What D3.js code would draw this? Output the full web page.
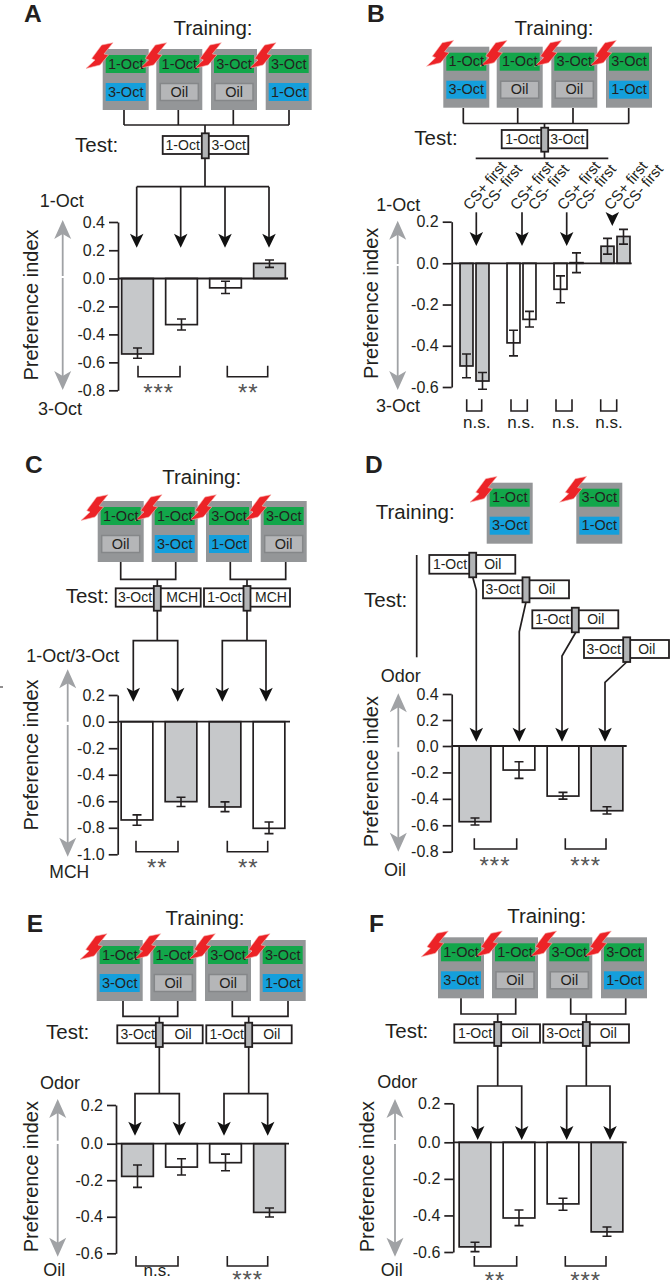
<!DOCTYPE html>
<html>
<head>
<meta charset="utf-8">
<script src="https://cdnjs.cloudflare.com/ajax/libs/d3/7.8.5/d3.min.js"></script>
<style>
html, body { margin: 0; padding: 0; background: #fff; }
svg { display: block; }
text { font-family: "Liberation Sans", Arial, sans-serif; fill: #231f20; }
.axis path, .axis line { stroke: #231f20; stroke-width: 1.7; }
.axis text { font-size: 16px; font-family: "Liberation Sans", Arial, sans-serif; fill: #231f20; }
</style>
</head>
<body>
<div id="chart"></div>
<script>
// values
var panelAValues = [-0.54, -0.33, -0.067, 0.107];
var panelAErrLow = [-0.571, -0.369, -0.107, 0.079];
var panelAErrHigh = [-0.497, -0.29, -0.02, 0.131];
var panelATicks = [0.4, 0.2, 0, -0.2, -0.4, -0.6, -0.8];

var panelBGroups = ["Group 1", "Group 2", "Group 3", "Group 4"];
var panelBSeries = ["CS+ first", "CS- first"];
var panelBValues = [[-0.498, -0.571], [-0.386, -0.272], [-0.126, 0.003], [0.082, 0.129]];
var panelBErrLow = [[-0.555, -0.611], [-0.449, -0.309], [-0.191, -0.045], [0.044, 0.092]];
var panelBErrHigh = [[-0.44, -0.53], [-0.325, -0.233], [-0.061, 0.05], [0.12, 0.163]];
var panelBTicks = [0.2, 0, -0.2, -0.4, -0.6];

var panelCValues = [-0.741, -0.603, -0.643, -0.804];
var panelCErrLow = [-0.781, -0.64, -0.678, -0.844];
var panelCErrHigh = [-0.703, -0.57, -0.605, -0.756];
var panelCTicks = [0.2, 0, -0.2, -0.4, -0.6, -0.8, -1.0];

var panelDValues = [-0.573, -0.182, -0.379, -0.49];
var panelDErrLow = [-0.598, -0.245, -0.402, -0.515];
var panelDErrHigh = [-0.545, -0.119, -0.351, -0.46];
var panelDTicks = [0.4, 0.2, 0, -0.2, -0.4, -0.6, -0.8];

var panelEValues = [-0.179, -0.128, -0.104, -0.376];
var panelEErrLow = [-0.239, -0.171, -0.148, -0.401];
var panelEErrHigh = [-0.117, -0.082, -0.057, -0.352];
var panelETicks = [0.2, 0, -0.2, -0.4, -0.6];

var panelFValues = [-0.572, -0.414, -0.337, -0.49];
var panelFErrLow = [-0.598, -0.456, -0.372, -0.514];
var panelFErrHigh = [-0.547, -0.37, -0.306, -0.463];
var panelFTicks = [0.2, 0, -0.2, -0.4, -0.6];

var barFillsA = ["grey", "white", "white", "grey"];
var barFillsC = ["white", "grey", "grey", "white"];

var cagesAll = [["1-Oct", "3-Oct"], ["1-Oct", "Oil"], ["3-Oct", "Oil"], ["3-Oct", "1-Oct"]];
var cagesC = [["1-Oct", "Oil"], ["1-Oct", "3-Oct"], ["3-Oct", "1-Oct"], ["3-Oct", "Oil"]];
var cagesD = [["1-Oct", "3-Oct"], ["3-Oct", "1-Oct"]];

var sigA = ["***", "**"], sigB = ["n.s.", "n.s.", "n.s.", "n.s."], sigC = ["**", "**"];
var sigD = ["***", "***"], sigE = ["n.s.", "***"], sigF = ["**", "***"];

var width = 670, height = 1280;
var svg = d3.select("#chart").append("svg").attr("width", width).attr("height", height);

var boltShape = [[-1, -4], [10.3, -6.3], [1.3, 5], [5.8, 6], [-2.7, 16], [-16.7, 19.5], [-7.7, 11], [-11, 9.5]];

function label(g, txt, x, y, size, anchor) {
    return g.append("text").attr("x", x).attr("y", y).attr("font-size", size)
        .attr("text-anchor", anchor || "middle").text(txt);
}

function cage(g, x, y, pair) {
    g.append("rect").attr("x", x).attr("y", y).attr("width", 46).attr("height", 61).attr("fill", "#949698");
    g.append("rect").attr("x", x + 3).attr("y", y + 6).attr("width", 40).attr("height", 18).attr("fill", "#12a64a");
    if (pair[1] == "Oil")
        g.append("rect").attr("x", x + 4).attr("y", y + 34.5).attr("width", 38).attr("height", 17)
            .attr("fill", "#b5b6b8").attr("stroke", "#858789").attr("stroke-width", 1.5);
    else
        g.append("rect").attr("x", x + 3).attr("y", y + 34).attr("width", 40).attr("height", 18).attr("fill", "#149fdc");
    g.append("polygon")
        .attr("points", boltShape.map(function(p) { return (x + p[0]) + "," + (y + p[1]); }).join(" "))
        .attr("fill", "#ec2327").attr("stroke", "#f6b5b0").attr("stroke-width", 0.6);
}

// labels go on in a second pass so the next cage's bolt does not cover them
function cageLabels(g, x, y, pair) {
    label(g, pair[0], x + 23, y + 19.5, 14.5);
    label(g, pair[1], x + 23, y + 47.7, 14.5);
}

function testBox(g, x0, x1, y0, y1, sx, sy0, sy1, labels) {
    g.append("rect").attr("x", x0).attr("y", y0).attr("width", x1 - x0).attr("height", y1 - y0)
        .attr("fill", "#fff").attr("stroke", "#231f20").attr("stroke-width", 1.8);
    g.append("rect").attr("x", sx - 3.5).attr("y", sy0).attr("width", 7).attr("height", sy1 - sy0)
        .attr("fill", "#b1b3b5").attr("stroke", "#231f20").attr("stroke-width", 1.8);
    label(g, labels[0][0], labels[0][1], y1 - 4.5, 14);
    label(g, labels[1][0], labels[1][1], y1 - 4.5, 14);
}

function head(g, x, tip, w, h, notch, color) {
    g.append("polygon")
        .attr("points", [[x, tip], [x - w / 2, tip - h], [x, tip - h + notch], [x + w / 2, tip - h]].join(" "))
        .attr("fill", color);
}

var linePath = d3.line();

function drawLines(g, lines) {
    lines.forEach(function(pts) {
        g.append("path").attr("d", linePath(pts)).attr("fill", "none")
            .attr("stroke", "#231f20").attr("stroke-width", 1.7);
    });
}

function doubleArrow(g, x, topTip, upEnd, downStart, botTip) {
    var grey = "#a0a2a5";
    g.append("line").attr("x1", x).attr("x2", x).attr("y1", topTip + 12).attr("y2", upEnd)
        .attr("stroke", grey).attr("stroke-width", 1.8);
    g.append("line").attr("x1", x).attr("x2", x).attr("y1", downStart).attr("y2", botTip - 12)
        .attr("stroke", grey).attr("stroke-width", 1.8);
    head(g, x, topTip, 17, -19, -5, grey);
    head(g, x, botTip, 17, 19, 5, grey);
}

function errorBar(g, x, low, high, y) {
    var path = d3.path();
    path.moveTo(x, y(low)); path.lineTo(x, y(high));
    path.moveTo(x - 4.5, y(low)); path.lineTo(x + 4.5, y(low));
    path.moveTo(x - 4.5, y(high)); path.lineTo(x + 4.5, y(high));
    g.append("path").attr("d", path.toString()).attr("fill", "none")
        .attr("stroke", "#231f20").attr("stroke-width", 1.6);
}

function drawBar(g, x, w, value, low, high, fill, y) {
    g.append("rect").attr("x", x).attr("width", w)
        .attr("y", Math.min(y(0), y(value))).attr("height", Math.abs(y(value) - y(0)))
        .attr("fill", fill == "grey" ? "#c6c8ca" : "#fff")
        .attr("stroke", "#231f20").attr("stroke-width", 1.7);
    errorBar(g, x + w / 2, low, high, y);
}

function yAxis(g, o) {
    // the spacing above zero is a little wider than below it in the scans, hence three stops
    var y = d3.scaleLinear()
        .domain([o.ticks[0], 0, o.ticks[o.ticks.length - 1]])
        .range(o.yRange);
    g.append("g").attr("class", "axis").attr("transform", "translate(" + o.axisX + ",0)")
        .call(d3.axisLeft(y).tickValues(o.ticks).tickSize(9).tickSizeOuter(0).tickPadding(4)
            .tickFormat(function(d) { return d.toFixed(1); }));
    return y;
}

function bracket(g, x0, x1, top, bot) {
    g.append("path").attr("d", linePath([[x0, top], [x0, bot], [x1, bot], [x1, top]]))
        .attr("fill", "none").attr("stroke", "#231f20").attr("stroke-width", 1.6);
}

function sigText(g, txt, x, y) {
    if (txt == "n.s.") label(g, txt, x, y, 17);
    else label(g, txt, x, y + 14, 24).style("fill", "#555").attr("letter-spacing", 1);
}

function common(o) {
    var g = svg.append("g");
    label(g, o.letter[0], o.letter[1], o.letter[2], 24.5, "start").attr("font-weight", "bold");
    label(g, "Training:", o.training[0], o.training[1], 20.5, o.training[2]);
    o.cageX.forEach(function(x, i) { cage(g, x, o.cageY, o.cages[i]); });
    o.cageX.forEach(function(x, i) { cageLabels(g, x, o.cageY, o.cages[i]); });
    label(g, "Test:", o.test[0], o.test[1], 20.5, "start");
    drawLines(g, o.lines);
    o.boxes.forEach(function(b) { testBox(g, b[0], b[1], b[2], b[3], b[4], b[5], b[6], b[7]); });
    o.heads.forEach(function(h) { head(g, h[0], h[1], 13.5, 14, 3.5, "#111"); });
    label(g, o.topLabel[0], o.topLabel[1], o.topLabel[2], 18);
    label(g, o.botLabel[0], o.botLabel[1], o.botLabel[2], o.botLabel[3] || 18);
    doubleArrow(g, o.grey[0], o.grey[1], o.grey[2], o.grey[3], o.grey[4]);
    g.append("text").attr("transform", "translate(" + o.pref[0] + "," + o.pref[1] + ") rotate(-90)")
        .attr("font-size", 20).attr("text-anchor", "middle").text("Preference index");
    o.brackets.forEach(function(b) { bracket(g, b[0], b[1], o.brTop, o.brBot); });
    o.sig.forEach(function(s, i) { sigText(g, s, o.sigX[i], o.sigY[i]); });
    return g;
}

function barPanel(o) {
    var g = common(o);
    var x = d3.scaleBand().domain(d3.range(o.values.length)).range(o.xRange)
        .paddingInner(0.28).paddingOuter(0.14);
    var y = yAxis(g, o);
    o.values.forEach(function(v, i) {
        drawBar(g, x(i), x.bandwidth(), v, o.low[i], o.high[i], o.fills[i], y);
    });
    g.append("line").attr("x1", o.axisX).attr("x2", o.zeroEnd).attr("y1", y(0)).attr("y2", y(0))
        .attr("stroke", "#231f20").attr("stroke-width", 1.8);
}

barPanel({
    letter: ["A", 24, 22.2], training: [213, 34.7], test: [75, 151.7],
    cages: cagesAll, cageX: [102.7, 156.3, 211, 265.7], cageY: 49,
    lines: [[[124, 110], [124, 125]], [[178.3, 110], [178.3, 125]], [[233.3, 110], [233.3, 125]], [[289, 110], [289, 125]],
        [[124, 125], [289, 125]], [[205, 125], [205, 186.7]], [[136.7, 186.7], [269, 186.7]],
        [[136.7, 186.7], [136.7, 240]], [[180.7, 186.7], [180.7, 240]], [[225, 186.7], [225, 240]], [[269, 186.7], [269, 240]]],
    boxes: [[162.7, 248.3, 136, 154, 205.3, 133.3, 158.3, [["1-Oct", 182.7], ["3-Oct", 228.7]]]],
    heads: [[136.7, 247.7], [180.7, 247.7], [225, 247.7], [269, 247.7]],
    topLabel: ["1-Oct", 61.7, 207], botLabel: ["3-Oct", 60, 415],
    grey: [62.7, 220, 276, 278, 390], pref: [37.7, 305],
    ticks: panelATicks, axisX: 118, yRange: [222, 278.5, 390.3], zeroEnd: 288,
    xRange: [115.5, 291.5], values: panelAValues, low: panelAErrLow, high: panelAErrHigh, fills: barFillsA,
    brackets: [[138, 180], [227.3, 267.7]], brTop: 365.7, brBot: 376.7,
    sig: sigA, sigX: [158.7, 248.3], sigY: [386.5, 386.5]
});

// panel B has two bars in each group
(function() {
    var o = {
        letter: ["B", 367, 22.2], training: [554, 34.7], test: [414.3, 145],
        cages: cagesAll, cageX: [443.3, 496.7, 551.3, 606], cageY: 46.7,
        lines: [[[463.3, 108], [463.3, 123.5]], [[517.7, 108], [517.7, 123.5]], [[573, 108], [573, 123.5]], [[628.7, 108], [628.7, 123.5]],
            [[463.3, 123.5], [628.7, 123.5]], [[544.5, 123.5], [544.5, 158.3]], [[475.7, 158.3], [608.3, 158.3]],
            [[476.3, 212.3], [476.3, 240]], [[522, 212.3], [522, 240]], [[566.7, 212.3], [566.7, 240]]],
        boxes: [[501.7, 587.3, 130, 148.3, 544.7, 127.7, 151.7, [["1-Oct", 522.3], ["3-Oct", 567.3]]]],
        heads: [[476.3, 246], [522, 246], [566.7, 246], [612.3, 226]],
        topLabel: ["1-Oct", 398.3, 211], botLabel: ["3-Oct", 398, 411.7],
        grey: [397.7, 220.7, 264, 266, 390], pref: [378.3, 303.3],
        ticks: panelBTicks, axisX: 451.7, yRange: [221.7, 263.3, 387],
        brackets: [[466.7, 481.7], [511, 527.3], [556, 572], [600.7, 616.7]], brTop: 399.3, brBot: 411,
        sig: sigB, sigX: [476.7, 521, 565.7, 609], sigY: [428, 428, 428, 428]
    };
    var g = common(o);
    var y = yAxis(g, o);
    var x0 = d3.scaleBand().domain(panelBGroups).range([451, 639]);
    var x1 = d3.scaleBand().domain(panelBSeries).range([0, x0.bandwidth()]).paddingInner(0.19).paddingOuter(0.565);
    panelBGroups.forEach(function(grp, i) {
        panelBSeries.forEach(function(s, j) {
            drawBar(g, x0(grp) + x1(s), x1.bandwidth(), panelBValues[i][j], panelBErrLow[i][j], panelBErrHigh[i][j], barFillsA[i], y);
            g.append("text").attr("font-size", 15)
                .attr("transform", "translate(" + (x0(grp) + x1(s) + (j ? 12 : 10)) + ",211) rotate(-50)")
                .text(s);
        });
    });
    g.append("line").attr("x1", 451.7).attr("x2", 631.7).attr("y1", y(0)).attr("y2", y(0))
        .attr("stroke", "#231f20").attr("stroke-width", 1.8);
})();

barPanel({
    letter: ["C", 25, 472.7], training: [201.7, 484.3], test: [65.7, 602.7],
    cages: cagesC, cageX: [97.7, 151.7, 206, 260.7], cageY: 501,
    lines: [[[120.7, 562], [120.7, 579.3], [175.7, 579.3], [175.7, 562]], [[230.3, 562], [230.3, 579.3], [285.7, 579.3], [285.7, 562]],
        [[157.3, 579.3], [157.3, 640.7]], [[247, 579.3], [247, 640.7]],
        [[133.3, 695], [133.3, 640.7], [177.7, 640.7], [177.7, 695]], [[222.3, 695], [222.3, 640.7], [266, 640.7], [266, 695]]],
    boxes: [[115.7, 200.7, 588.3, 606.7, 157.3, 586, 610.7, [["3-Oct", 135], ["MCH", 182.3]]],
        [204, 290, 588.3, 606.7, 247, 586, 610.7, [["1-Oct", 224.3], ["MCH", 271]]]],
    heads: [[133.3, 701.7], [177.7, 701.7], [222.3, 701.7], [266, 701.7]],
    topLabel: ["1-Oct/3-Oct", 72.7, 662.3], botLabel: ["MCH", 69.3, 878, 17.5],
    grey: [67.7, 669.3, 721.7, 725, 856.7], pref: [37.7, 755],
    ticks: panelCTicks, axisX: 117.7, yRange: [695, 721.7, 854.3], zeroEnd: 290,
    xRange: [115, 291], values: panelCValues, low: panelCErrLow, high: panelCErrHigh, fills: barFillsC,
    brackets: [[136, 178], [227.3, 267.7]], brTop: 840.7, brBot: 851.7,
    sig: sigC, sigX: [157.3, 248.3], sigY: [861.7, 861.7]
});

barPanel({
    letter: ["D", 365, 472.7], training: [375.7, 519.3, "start"], test: [364, 606.7],
    cages: cagesD, cageX: [486.7, 576.3], cageY: 482.7,
    lines: [[[416.7, 555], [416.7, 657.3]],
        [[472.7, 577], [476.3, 590], [476.3, 736]], [[526, 602], [519.3, 631.7], [519.3, 736]],
        [[576, 632], [562, 656], [562, 736]], [[626.7, 662], [605, 682.3], [605, 736]]],
    boxes: [[429.3, 515.3, 555, 573.7, 472.7, 552.7, 577.3, [["1-Oct", 450], ["Oil", 492.7]]],
        [483, 569, 580.3, 598.3, 526, 577.3, 602.3, [["3-Oct", 502.7], ["Oil", 546.7]]],
        [532.3, 618.3, 610.3, 628.3, 575.3, 607.7, 632.3, [["1-Oct", 552.3], ["Oil", 595.7]]],
        [584, 669, 640, 658, 626.7, 637.3, 662, [["3-Oct", 603.7], ["Oil", 646.7]]]],
    heads: [[476.3, 741.7], [519.3, 741.7], [562, 741.7], [605, 741.7]],
    topLabel: ["Odor", 400.7, 681.7], botLabel: ["Oil", 395, 875.7],
    grey: [398.3, 693.3, 747.3, 751.7, 851.7], pref: [378.3, 771.7],
    ticks: panelDTicks, axisX: 451.7, yRange: [694, 746, 851.7], zeroEnd: 626.7,
    xRange: [453, 629], values: panelDValues, low: panelDErrLow, high: panelDErrHigh, fills: barFillsA,
    brackets: [[474.3, 516.7], [565.3, 606]], brTop: 838.3, brBot: 849,
    sig: sigD, sigX: [495, 585.7], sigY: [860, 860]
});

barPanel({
    letter: ["E", 26.7, 931.7], training: [205, 925], test: [46, 1039.3],
    cages: cagesAll, cageX: [96.7, 150.3, 205, 259.7], cageY: 940,
    lines: [[[123, 1001], [123, 1016.3], [177.7, 1016.3], [177.7, 1001]], [[232.3, 1001], [232.3, 1016.3], [288, 1016.3], [288, 1001]],
        [[159.3, 1016.3], [159.3, 1093.7]], [[248.7, 1016.3], [248.7, 1093.7]],
        [[135, 1130], [135, 1093.7], [179.3, 1093.7], [179.3, 1130]], [[224, 1130], [224, 1093.7], [267.7, 1093.7], [267.7, 1130]]],
    boxes: [[117.3, 202.7, 1025.3, 1043.3, 159.3, 1022.7, 1047, [["3-Oct", 137.7], ["Oil", 183]]],
        [206.3, 291.7, 1025.3, 1043.3, 248.7, 1022.7, 1047, [["1-Oct", 226.7], ["Oil", 271.7]]]],
    heads: [[135, 1135.7], [179.3, 1135.7], [224, 1135.7], [267.7, 1135.7]],
    topLabel: ["Odor", 60, 1089], botLabel: ["Oil", 54.3, 1276],
    grey: [57.7, 1099, 1140.7, 1144, 1256.7], pref: [37.7, 1176.7],
    ticks: panelETicks, axisX: 116, yRange: [1105, 1143.7, 1253.3], zeroEnd: 289,
    xRange: [115.5, 291.5], values: panelEValues, low: panelEErrLow, high: panelEErrHigh, fills: barFillsA,
    brackets: [[136, 178], [227.3, 267.7]], brTop: 1256, brBot: 1266,
    sig: sigE, sigX: [157.3, 247.7], sigY: [1276, 1274]
});

barPanel({
    letter: ["F", 369, 931.7], training: [546.7, 922.7], test: [385, 1038.3],
    cages: cagesAll, cageX: [438, 492, 546.3, 601], cageY: 937.3,
    lines: [[[461, 998.3], [461, 1014], [515.7, 1014], [515.7, 998.3]], [[570.7, 998.3], [570.7, 1014], [625.7, 1014], [625.7, 998.3]],
        [[497.7, 1014], [497.7, 1086]], [[586.3, 1014], [586.3, 1086]],
        [[477.7, 1134], [477.7, 1086], [521.7, 1086], [521.7, 1134]], [[566.7, 1134], [566.7, 1086], [610, 1086], [610, 1134]]],
    boxes: [[454.3, 540, 1024.3, 1042.7, 497.7, 1022, 1046, [["1-Oct", 475], ["Oil", 520]]],
        [543.3, 629, 1024.3, 1042.7, 586.3, 1022, 1046, [["3-Oct", 563.3], ["Oil", 608.3]]]],
    heads: [[477.7, 1140], [521.7, 1140], [566.7, 1140], [610, 1140]],
    topLabel: ["Odor", 397.3, 1088.3], botLabel: ["Oil", 391.7, 1276],
    grey: [395, 1099, 1140, 1144, 1256.7], pref: [374.3, 1176.7],
    ticks: panelFTicks, axisX: 453.3, yRange: [1103.3, 1142.3, 1252], zeroEnd: 626.7,
    xRange: [453, 629], values: panelFValues, low: panelFErrLow, high: panelFErrHigh, fills: barFillsA,
    brackets: [[474.3, 516.7], [565.3, 606]], brTop: 1256, brBot: 1266,
    sig: sigF, sigX: [495, 585.7], sigY: [1275, 1275]
});

// stray mark at the left edge of the scan
svg.append("line").attr("x1", 0).attr("x2", 3).attr("y1", 687).attr("y2", 687).attr("stroke", "#231f20");
</script>
</body>
</html>
